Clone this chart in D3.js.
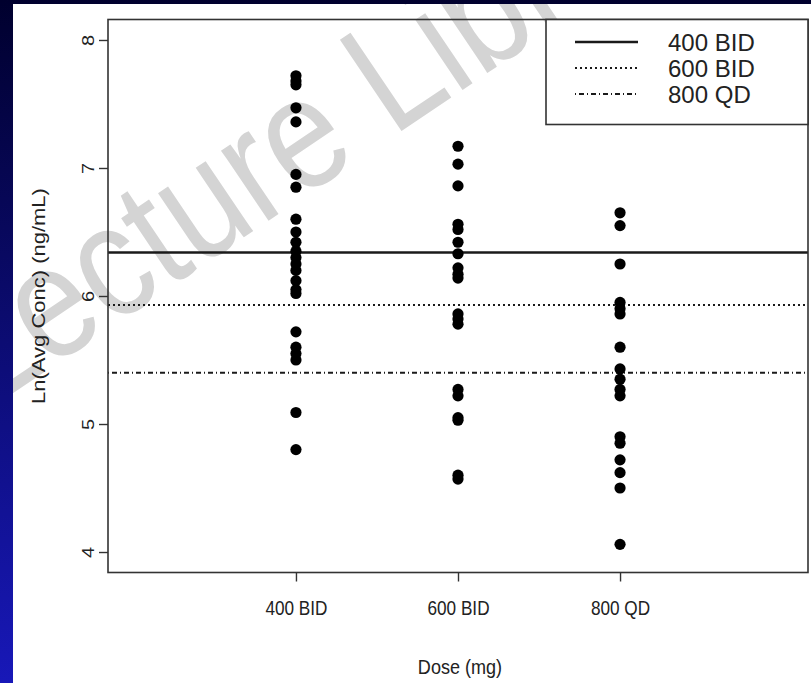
<!DOCTYPE html>
<html>
<head>
<meta charset="utf-8">
<script src="https://cdn.jsdelivr.net/npm/d3@7"></script>
<style>
  html, body { margin: 0; padding: 0; background: #ffffff; }
  svg { display: block; }
  text { font-family: "Liberation Sans", Arial, Helvetica, sans-serif; }
</style>
</head>
<body>
<svg id="chart" width="811" height="683"></svg>
<script>
// ---- data ----
const categories = ["400 BID", "600 BID", "800 QD"];
const dose400BID = [7.72, 7.68, 7.65, 7.47, 7.36, 6.95, 6.85, 6.60, 6.50, 6.42, 6.35, 6.30, 6.25, 6.20, 6.12, 6.05, 6.02, 5.72, 5.60, 5.55, 5.50, 5.09, 4.80];
const dose600BID = [7.17, 7.03, 6.86, 6.56, 6.52, 6.42, 6.33, 6.22, 6.17, 6.14, 5.86, 5.82, 5.78, 5.27, 5.22, 5.05, 5.03, 4.60, 4.57];
const dose800QD  = [6.65, 6.55, 6.25, 5.95, 5.90, 5.86, 5.60, 5.43, 5.35, 5.27, 5.22, 4.90, 4.85, 4.72, 4.62, 4.50, 4.06];
const meanLines = [6.34, 5.93, 5.40];          // horizontal reference lines
const legendLabels = ["400 BID", "600 BID", "800 QD"];
const yTicks = [4, 5, 6, 7, 8];
const xTicks = [1, 2, 3];
const yTitle = "Ln(Avg Conc) (ng/mL)";
const xTitle = "Dose (mg)";
const watermark = "Lecture Library";

const series = [dose400BID, dose600BID, dose800QD];
const lineDash = [null, "2,3", "1,3,5,3"];

const svg = d3.select("#chart");
const W = 811, H = 683;
const squeeze = 0.86;   // the reference text is slightly condensed horizontally

// slide background
const defs = svg.append("defs");
const grad = defs.append("linearGradient").attr("id", "bg").attr("x1", 0).attr("y1", 0).attr("x2", 0).attr("y2", 1);
grad.append("stop").attr("offset", "0%").attr("stop-color", "#00002e");
grad.append("stop").attr("offset", "100%").attr("stop-color", "#1818b8");
svg.append("rect").attr("width", W).attr("height", H).attr("fill", "url(#bg)");
const paper = { x: 13, y: 4 };
svg.append("rect").attr("x", paper.x).attr("y", paper.y).attr("width", W - paper.x).attr("height", H - paper.y).attr("fill", "#ffffff");
defs.append("clipPath").attr("id", "paperClip").append("rect")
  .attr("x", paper.x).attr("y", paper.y).attr("width", W - paper.x).attr("height", H - paper.y);

// scales (R-style 4% padding)
const box = { left: 108, right: 808, top: 19.5, bottom: 572.5 };
const x = d3.scaleLinear().domain([-0.16, 4.16]).range([box.left, box.right]);
const y = d3.scaleLinear().domain([3.84, 8.16]).range([box.bottom, box.top]);

// watermark
svg.append("g").attr("clip-path", "url(#paperClip)")
  .append("text")
  .attr("transform", "translate(-15,412) rotate(-34) scale(0.85,1)")
  .attr("font-size", 160)
  .attr("fill", "#d4d4d4")
  .text(watermark);

// reference lines
const g = svg.append("g");
g.selectAll("line.ref").data(meanLines).join("line")
  .attr("class", "ref")
  .attr("x1", box.left).attr("x2", box.right)
  .attr("y1", d => y(d)).attr("y2", d => y(d))
  .attr("stroke", "#1a1a1a")
  .attr("stroke-width", (d, i) => i === 0 ? 2.4 : 2)
  .attr("stroke-dasharray", (d, i) => lineDash[i]);

// points
series.forEach((vals, i) => {
  g.selectAll(null).data(vals).join("circle")
    .attr("cx", x(xTicks[i]))
    .attr("cy", d => y(d))
    .attr("r", 5.6)
    .attr("fill", "#000000");
});

// box
svg.append("rect")
  .attr("x", box.left).attr("y", box.top)
  .attr("width", box.right - box.left).attr("height", box.bottom - box.top)
  .attr("fill", "none").attr("stroke", "#333").attr("stroke-width", 1.6);

// y axis
const yAxis = svg.append("g").attr("transform", `translate(${box.left},0)`)
  .call(d3.axisLeft(y).tickValues(yTicks).tickSize(9).tickPadding(0).tickFormat(d3.format("d")));
yAxis.select(".domain").remove();
yAxis.selectAll(".tick line").attr("stroke", "#333").attr("stroke-width", 1.4);
yAxis.selectAll(".tick text")
  .attr("x", null)
  .attr("text-anchor", "middle")
  .attr("transform", `translate(-20,0) scale(${squeeze},1) rotate(-90)`)
  .attr("dy", "0.35em")
  .attr("font-size", 20)
  .attr("fill", "#222");

// x axis
const xAxis = svg.append("g").attr("transform", `translate(0,${box.bottom})`)
  .call(d3.axisBottom(x).tickValues(xTicks).tickSize(9).tickPadding(0).tickFormat((d, i) => categories[i]));
xAxis.select(".domain").remove();
xAxis.selectAll(".tick line").attr("stroke", "#333").attr("stroke-width", 1.4);
xAxis.selectAll(".tick text")
  .attr("y", null).attr("dy", "0.35em")
  .attr("transform", `translate(0,35) scale(${squeeze},1)`)
  .attr("font-size", 20).attr("fill", "#222");

// axis titles
svg.append("text")
  .attr("transform", `translate(38,${(box.top + box.bottom) / 2}) scale(${squeeze},1) rotate(-90)`)
  .attr("text-anchor", "middle").attr("dy", "0.35em")
  .attr("font-size", 22).attr("fill", "#222")
  .text(yTitle);
svg.append("text")
  .attr("transform", `translate(${(box.left + box.right) / 2 + 2},667) scale(${squeeze},1)`)
  .attr("text-anchor", "middle").attr("dy", "0.35em")
  .attr("font-size", 21).attr("fill", "#222")
  .text(xTitle);

// legend
const leg = svg.append("g");
const legBox = { x: 546, y: box.top, w: box.right - 546, h: 105 };
leg.append("rect").attr("x", legBox.x).attr("y", legBox.y).attr("width", legBox.w).attr("height", legBox.h)
  .attr("fill", "#fff").attr("stroke", "#333").attr("stroke-width", 1.6);
const legRow = d3.scaleLinear().domain([0, 2]).range([42, 94]);
legendLabels.forEach((lab, i) => {
  leg.append("line")
    .attr("x1", 575).attr("x2", 638)
    .attr("y1", legRow(i)).attr("y2", legRow(i))
    .attr("stroke", "#1a1a1a")
    .attr("stroke-width", i === 0 ? 2.4 : 2)
    .attr("stroke-dasharray", lineDash[i]);
  leg.append("text")
    .attr("x", 668).attr("y", legRow(i) + 1)
    .attr("dy", "0.35em")
    .attr("font-size", 24).attr("fill", "#222")
    .text(lab);
});
</script>
</body>
</html>
